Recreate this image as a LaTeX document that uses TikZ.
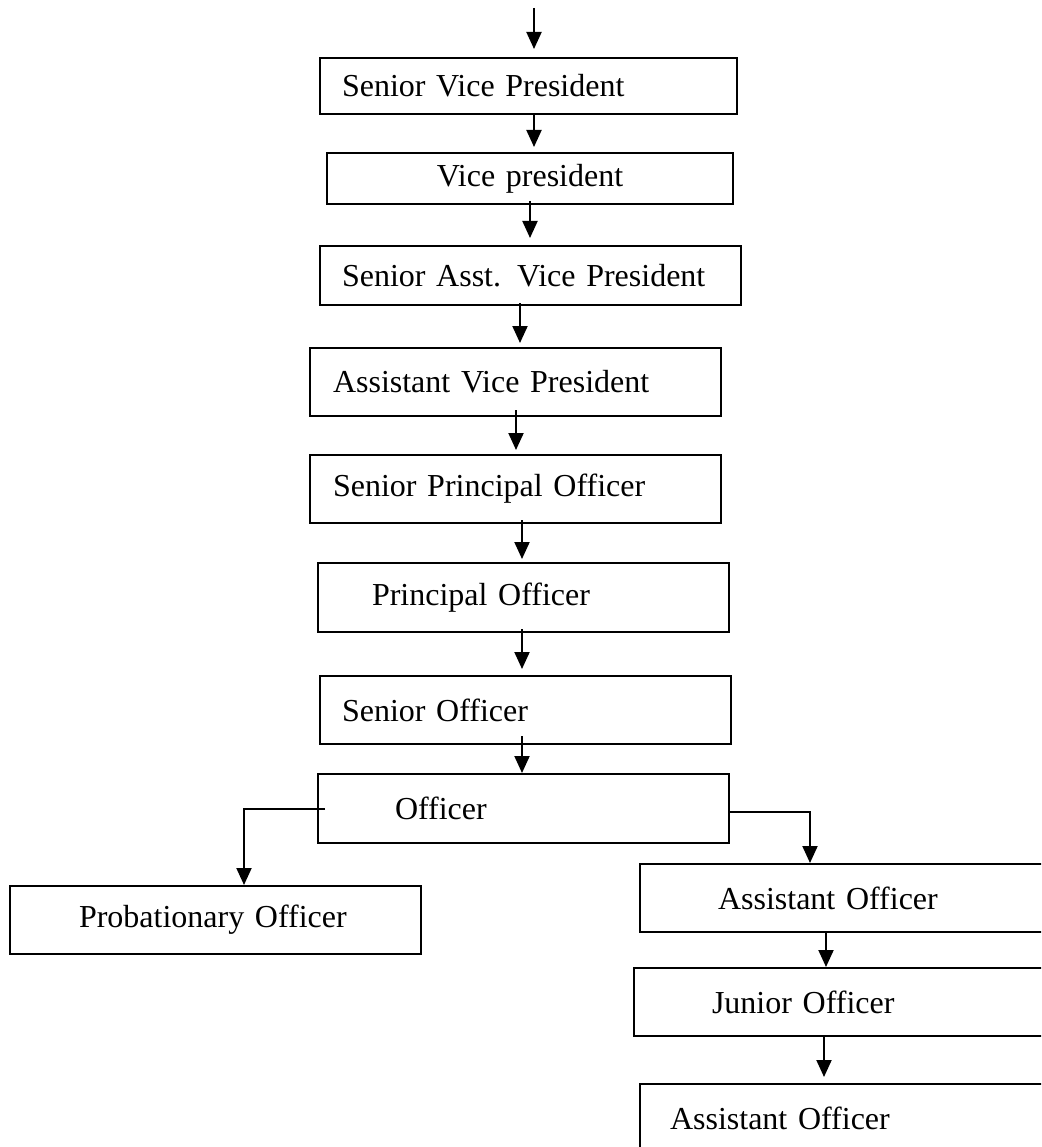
\documentclass[tikz,border=0pt]{standalone}
\usepackage{fontspec}
\setmainfont{Liberation Serif}
\usepackage{tikz}
\usetikzlibrary{arrows.meta}
\tikzset{
    rankbox/.style = {
        rectangle,
        draw=black,
        line width=2pt,
        anchor=north west,
        align=left,
        inner ysep=0pt,
        minimum height=68pt,
        font=\fontsize{32pt}{38pt}\selectfont
    },
    rankarrow/.style = {
        -{Triangle[length=17pt,width=15pt]},
        line width=2pt
    }
}

\begin{document}
\begin{tikzpicture}[x=1pt, y=-1pt]
            \clip (0,0) rectangle (1041,1147);
            % main chain
            \node [rankbox, minimum height=56pt, inner xsep=22pt, text width=373pt] (svp) at (319,57) {Senior Vice President};
            \node [rankbox, minimum height=51pt, inner xsep=20pt, text width=366pt, align=center] (vp) at (326,152) {Vice president};
            \node [rankbox, minimum height=59pt, inner xsep=22pt, text width=377pt] (savp) at (319,245) {Senior Asst. Vice President};
            \node [rankbox, inner xsep=23pt, text width=365pt] (avp) at (309,347) {Assistant Vice President};
            \node [rankbox, inner xsep=23pt, text width=365pt] (spo) at (309,454) {Senior Principal Officer};
            \node [rankbox, minimum height=69pt, inner xsep=54pt, text width=303pt] (po) at (317,562) {Principal Officer};
            \node [rankbox, inner xsep=22pt, text width=367pt] (so) at (319,675) {Senior Officer};
            \node [rankbox, minimum height=69pt, inner xsep=77pt, text width=257pt] (off) at (317,773) {Officer};
            % branches
            \node [rankbox, inner xsep=69pt, text width=273pt] (prob) at (9,885) {Probationary Officer};
            \node [rankbox, inner xsep=78pt, text width=255pt] (ao) at (639,863) {Assistant Officer};
            \node [rankbox, inner xsep=78pt, text width=255pt] (jo) at (633,967) {Junior Officer};
            \node [rankbox, inner xsep=30pt, text width=351pt] (aotwo) at (639,1083) {Assistant Officer};

            \coordinate (entry) at (534,8);
            \draw [rankarrow, shorten >=8pt] (entry) -- (entry |- svp.north);
            \draw [rankarrow, shorten >=5pt] ([xshift=215pt]svp.south west) -- ([xshift=215pt]svp.south west |- vp.north);
            \draw [rankarrow, shorten >=7pt] ([xshift=204pt,yshift=4pt]vp.south west) -- ([xshift=204pt]vp.south west |- savp.north);
            \draw [rankarrow, shorten >=4pt] ([xshift=201pt,yshift=3pt]savp.south west) -- ([xshift=201pt]savp.south west |- avp.north);
            \draw [rankarrow, shorten >=4pt] ([xshift=207pt,yshift=7pt]avp.south west) -- ([xshift=207pt]avp.south west |- spo.north);
            \draw [rankarrow, shorten >=3pt] ([xshift=213pt,yshift=4pt]spo.south west) -- ([xshift=213pt]spo.south west |- po.north);
            \draw [rankarrow, shorten >=6pt] ([xshift=205pt,yshift=4pt]po.south west) -- ([xshift=205pt]po.south west |- so.north);
            \draw [rankarrow] ([xshift=203pt,yshift=9pt]so.south west) -- ([xshift=203pt]so.south west |- off.north);
            \draw [rankarrow] ([xshift=8pt]off.west) -| ([xshift=235pt]prob.north west);
            \draw [rankarrow] ([yshift=-3pt]off.east) -| ([xshift=171pt]ao.north west);
            \draw [rankarrow] ([xshift=187pt]ao.south west) -- ([xshift=187pt]ao.south west |- jo.north);
            \draw [rankarrow, shorten >=6pt] ([xshift=191pt]jo.south west) -- ([xshift=191pt]jo.south west |- aotwo.north);
\end{tikzpicture}
\end{document}
